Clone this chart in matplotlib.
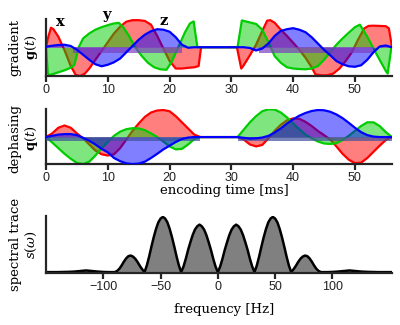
import matplotlib
matplotlib.use("Agg")
import matplotlib.pyplot as plt

# ---- gradient g(t) ----
t_gx = [0, 0.3, 0.8, 1.2, 2, 3, 4, 4.8, 5.5, 6.3, 7, 8, 9, 10, 11, 12, 13, 14, 15, 16, 17, 18, 19,
        20, 21, 22, 23, 24, 24.7, 25.1, 30.9, 31.6, 32, 33, 34, 35, 35.8, 36.3, 37, 38, 39, 40, 41,
        42, 43, 43.6, 44.5, 45.5, 46.5, 47.5, 48.5, 49.5, 50.5, 51.5, 52.2, 53, 54, 55, 55.5, 56]
gx = [0, 0.35, 0.78, 0.72, 0.42, -0.12, -0.75, -1.1, -1.15, -1.05, -0.85, -0.5, -0.15, 0.2, 0.55,
      0.82, 1.02, 1.08, 1.08, 1.05, 0.9, 0.45, -0.05, -0.55, -0.85, -0.85, -0.82, -0.8, -0.75, 0,
      0, -0.85, -0.72, -0.32, 0.1, 0.65, 1.06, 1.08, 0.98, 0.7, 0.45, 0.18, -0.1, -0.42, -0.8,
      -1.08, -1.12, -1.12, -1.05, -0.85, -0.55, -0.2, 0.3, 0.75, 0.85, 0.86, 0.85, 0.84, 0.75, 0]

t_gy = [0, 0.3, 0.6, 1, 2, 3, 4, 4.6, 5.3, 6, 7, 8, 9, 10, 11, 11.8, 12.5, 13.3, 14, 14.5, 15.5,
        16.5, 17.5, 18.5, 19.5, 20.3, 21.5, 22.5, 23.3, 23.9, 24.5, 31, 31.7, 32, 33, 34, 35, 36,
        37, 38, 39, 40, 41, 42, 43, 44, 45, 46, 47, 48, 49, 50, 50.8, 51.5, 52, 53, 54, 55, 55.3, 55.9]
gy = [0, -1.05, -1.12, -1.08, -1.0, -0.92, -0.82, -0.7, 0, 0.35, 0.55, 0.7, 0.8, 0.88, 0.95, 0.97,
      0.8, 0.5, 0.2, -0.02, -0.35, -0.62, -0.8, -0.88, -0.9, -0.6, 0.05, 0.6, 0.95, 1.03, 0,
      0, 1.07, 1.05, 0.99, 0.93, 0.7, 0.2, -0.35, -0.62, -0.8, -0.85, -0.87, -0.88, -0.85, -0.75,
      -0.5, -0.2, 0.1, 0.35, 0.58, 0.8, 0.9, 0.62, 0.42, -0.05, -0.5, -0.95, -1.05, 0]

t_gz = list(range(57))
gz = [0.02, 0.06, 0.09, 0.1, 0.05, -0.1, -0.3, -0.5, -0.68, -0.76, -0.7, -0.6, -0.45, -0.2, 0.05,
      0.3, 0.5, 0.64, 0.72, 0.7, 0.62, 0.4, 0.1, -0.02, 0, 0, 0, 0, 0, 0, 0, 0, 0, -0.03, -0.13,
      -0.05, 0.15, 0.45, 0.65, 0.72, 0.76, 0.7, 0.6, 0.4, 0.15, -0.1, -0.32, -0.55, -0.68, -0.76,
      -0.78, -0.72, -0.5, -0.2, 0.03, 0.07, 0]

# ---- dephasing q(t) ----
t_q = list(range(57))
qx = [0, 0.15, 0.38, 0.47, 0.38, 0.15, -0.05, -0.3, -0.55, -0.7, -0.75, -0.7, -0.45, -0.1, 0.25,
      0.55, 0.82, 1.0, 1.08, 1.1, 1.05, 0.85, 0.6, 0.35, 0.1, 0, 0, 0, 0, 0, 0, 0, -0.1, -0.3,
      -0.38, -0.32, -0.05, 0.25, 0.5, 0.68, 0.76, 0.74, 0.62, 0.45, 0.25, 0.08, -0.1, -0.38,
      -0.68, -0.92, -1.06, -1.04, -0.85, -0.6, -0.35, -0.12, 0]
qy = [0, -0.22, -0.45, -0.68, -0.88, -1.05, -1.1, -1.0, -0.75, -0.45, -0.2, 0.05, 0.22, 0.32,
      0.36, 0.35, 0.28, 0.15, 0.0, -0.18, -0.38, -0.5, -0.48, -0.3, -0.08, 0, 0, 0, 0, 0, 0, 0,
      0.3, 0.6, 0.85, 1.05, 1.13, 1.12, 1.0, 0.8, 0.55, 0.32, 0.1, -0.05, -0.18, -0.26, -0.28,
      -0.25, -0.12, 0.05, 0.25, 0.45, 0.6, 0.6, 0.45, 0.2, 0]
qz = [0, 0.05, 0.1, 0.12, 0.12, 0.08, -0.03, -0.15, -0.3, -0.48, -0.62, -0.85, -0.98, -1.07,
      -1.1, -1.08, -1.0, -0.85, -0.68, -0.5, -0.35, -0.2, -0.08, -0.02, 0, 0, 0, 0, 0, 0, 0, 0,
      -0.03, -0.06, -0.05, -0.02, 0.05, 0.18, 0.35, 0.55, 0.72, 0.87, 0.98, 1.06, 1.1, 1.09,
      1.03, 0.92, 0.77, 0.58, 0.38, 0.2, 0.08, 0.02, 0, 0, 0]

# ---- spectral trace s(omega) ----
freq = [-150, -140, -130, -125, -120, -115, -110, -105, -100, -95, -92,
        -90, -88, -86, -84, -82, -80, -78, -76, -74, -72, -70, -68, -66,
        -64, -62, -60, -58, -56, -54, -52, -50, -48, -46, -44, -42, -40, -38, -36, -34,
        -32, -30, -28, -26, -24, -22, -20, -18, -16, -14, -12, -10, -8, -6, -4, -2,
        0, 2, 4, 6, 8, 10, 12, 14, 16, 18, 20, 22, 24, 26, 28, 30,
        32, 34, 36, 38, 40, 42, 44, 46, 48, 50, 52, 54, 56, 58, 60, 62,
        64, 66, 68, 70, 72, 74, 76, 78, 80, 82, 84, 86, 88, 90,
        92, 95, 100, 105, 110, 115, 120, 125, 130, 140, 152]
spec = [0, 0, 0.005, 0.01, 0.02, 0.03, 0.02, 0.01, 0.003, 0, 0,
        0, 0.02, 0.06, 0.12, 0.19, 0.25, 0.29, 0.3, 0.28, 0.24, 0.18, 0.11, 0.05,
        0, 0.12, 0.28, 0.46, 0.63, 0.78, 0.9, 0.97, 1.0, 0.97, 0.9, 0.78, 0.63, 0.46, 0.28, 0.12,
        0, 0.1, 0.24, 0.4, 0.54, 0.67, 0.77, 0.83, 0.86, 0.83, 0.77, 0.67, 0.54, 0.4, 0.24, 0.1,
        0, 0.1, 0.24, 0.4, 0.54, 0.67, 0.77, 0.83, 0.86, 0.83, 0.77, 0.67, 0.54, 0.4, 0.24, 0.1,
        0, 0.12, 0.28, 0.46, 0.63, 0.78, 0.9, 0.97, 1.0, 0.97, 0.9, 0.78, 0.63, 0.46, 0.28, 0.12,
        0, 0.05, 0.11, 0.18, 0.24, 0.28, 0.3, 0.29, 0.25, 0.19, 0.12, 0.06, 0.02, 0,
        0, 0, 0.003, 0.01, 0.02, 0.03, 0.02, 0.01, 0.005, 0, 0]

# shaded strips just under the zero line
g_bands = [(4.3, 22), (34.5, 53)]
q_bands = [(0, 25), (31, 56)]

RED, GREEN, BLUE = "#ff0000", "#00cc00", "#0000ff"
serif = "DejaVu Serif"
plt.rcParams["mathtext.fontset"] = "dejavuserif"

fig = plt.figure(figsize=(4, 3.25), dpi=100)
ax1 = fig.add_axes([0.115, 0.766, 0.865, 0.175])
ax2 = fig.add_axes([0.115, 0.495, 0.865, 0.171])
ax3 = fig.add_axes([0.115, 0.161, 0.865, 0.175])


def style(ax):
    for s in ["top", "right"]:
        ax.spines[s].set_visible(False)
    for s in ["left", "bottom"]:
        ax.spines[s].set_linewidth(1.6)
        ax.spines[s].set_color("#262626")
    ax.tick_params(axis="x", direction="out", length=4, width=1.6, color="#262626",
                   labelsize=9, labelcolor="#222222", pad=2)
    ax.set_yticks([])
    for lab in ax.get_xticklabels():
        lab.set_family("Liberation Sans")


def draw_set(ax, curves, bands, depth, band_color):
    # red, then green, then blue: each fill sits over the earlier lines
    z = 1
    for t, y, c in curves:
        ax.fill_between(t, 0, y, color=c, alpha=0.5, lw=0, zorder=z)
        if c != BLUE:
            ax.plot(t, y, color=c, lw=1.6, zorder=z + 0.5, solid_joinstyle="round")
        z += 1
    for a, b in bands:
        ax.fill_between([a, b], -depth, 0, color=band_color, alpha=0.7, lw=0, zorder=z)
    t, y, c = curves[-1]
    ax.plot(t, y, color=c, lw=1.6, zorder=z + 1, solid_joinstyle="round")


draw_set(ax1, [(t_gx, gx, RED), (t_gy, gy, GREEN), (t_gz, gz, BLUE)],
         g_bands, 0.22, "#7b40bf")
ax1.set_xlim(0, 56)
ax1.set_ylim(-1.15, 1.12)
ax1.set_xticks([0, 10, 20, 30, 40, 50])
style(ax1)
ax1.text(2.3, 1.02, "x", family=serif, weight="bold", fontsize=10.5, ha="center", va="center")
ax1.text(9.85, 1.29, "y", family=serif, weight="bold", fontsize=10.5, ha="center", va="center",
         clip_on=False)
ax1.text(19.0, 1.06, "z", family=serif, weight="bold", fontsize=10.5, ha="center", va="center")

draw_set(ax2, [(t_q, qx, RED), (t_q, qy, GREEN), (t_q, qz, BLUE)],
         q_bands, 0.15, "#3f4f9f")
ax2.set_xlim(0, 56)
ax2.set_ylim(-1.1, 1.16)
ax2.set_xticks([0, 10, 20, 30, 40, 50])
style(ax2)

ax3.fill_between(freq, 0, spec, color="#808080", lw=0)
ax3.plot(freq, spec, color="black", lw=1.8, solid_joinstyle="round")
ax3.set_xlim(-150, 152)
ax3.set_ylim(-0.01, 1.02)
ax3.set_xticks([-100, -50, 0, 50, 100])
style(ax3)

fig.text(0.06, 0.854, "gradient\n$\\mathbf{g}(t)$", rotation=90, ha="center", va="center",
         family=serif, fontsize=9.5, multialignment="center", linespacing=1.15)
fig.text(0.06, 0.575, "dephasing\n$\\mathbf{q}(t)$", rotation=90, ha="center", va="center",
         family=serif, fontsize=9.5, multialignment="center", linespacing=1.15)
fig.text(0.06, 0.249, "spectral trace\n$s(\\omega)$", rotation=90, ha="center", va="center",
         family=serif, fontsize=9.5, multialignment="center", linespacing=1.15)
fig.text(0.56, 0.415, "encoding time [ms]", ha="center", va="center", family=serif, fontsize=9.5)
fig.text(0.56, 0.049, "frequency [Hz]", ha="center", va="center", family=serif, fontsize=9.5)

fig.savefig("out.png", dpi=100)
